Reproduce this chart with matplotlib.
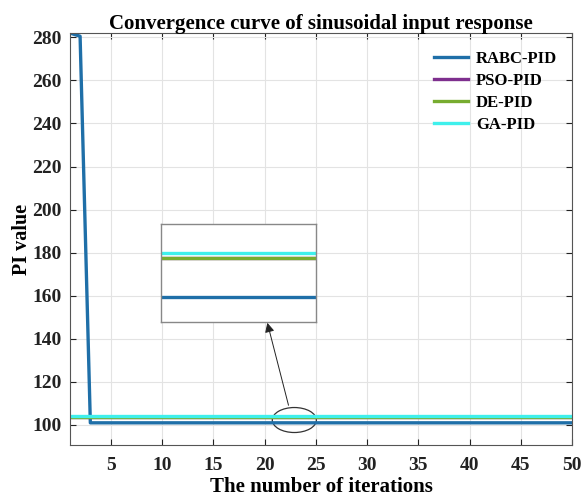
import numpy as np
import matplotlib.pyplot as plt
from matplotlib.patches import Ellipse

plt.rcParams['font.family'] = ['Liberation Serif', 'DejaVu Serif']
plt.rcParams['font.weight'] = 'bold'

# ========== data ==========
iterations = np.arange(1, 51)
rabc_pid = np.array([282.0, 280.5] + [101.0] * 48)
pso_pid = np.full(50, 103.7)
de_pid = np.full(50, 103.7)
ga_pid = np.full(50, 104.0)

series = [
    ('RABC-PID', rabc_pid, '#1f6fa8'),
    ('PSO-PID', pso_pid, '#7e2f8e'),
    ('DE-PID', de_pid, '#77ac30'),
    ('GA-PID', ga_pid, '#3ff0ec'),
]
x_ticks = [5, 10, 15, 20, 25, 30, 35, 40, 45, 50]
y_ticks = [100, 120, 140, 160, 180, 200, 220, 240, 260, 280]

fig = plt.figure(figsize=(5.82, 5.0), dpi=100)
ax = fig.add_axes([0.120, 0.110, 0.863, 0.824])

for name, vals, col in series:
    ax.plot(iterations, vals, color=col, lw=2.4, label=name)

ax.set_xlim(1, 50)
ax.set_ylim(90.7, 282)
ax.set_xticks(x_ticks)
ax.set_yticks(y_ticks)
ax.tick_params(direction='in', top=True, right=True, labelsize=14, colors='#222222',
               length=4, width=0.8)
ax.tick_params(axis='x', pad=9)
ax.tick_params(axis='y', pad=6)
for lab in ax.get_xticklabels() + ax.get_yticklabels():
    lab.set_fontweight('bold')
for sp in ax.spines.values():
    sp.set_color('#555555')
    sp.set_linewidth(0.8)
ax.grid(True, color='#e3e3e3', lw=0.8)
ax.set_axisbelow(True)

ax.set_title('Convergence curve of sinusoidal input response', fontsize=15,
             fontweight='bold', pad=3)
ax.set_xlabel('The number of iterations', fontsize=15, fontweight='bold', labelpad=2)
ax.set_ylabel('PI value', fontsize=14.5, fontweight='bold', labelpad=0)

leg = ax.legend(loc='upper right', bbox_to_anchor=(0.99, 0.98), frameon=False,
                fontsize=12, handlelength=2.0, handletextpad=0.5,
                borderaxespad=0.2, labelspacing=0.36)
for t in leg.get_texts():
    t.set_fontweight('bold')

# ellipse marking the zoomed region
ax.add_patch(Ellipse((22.9, 102.3), 4.3, 11.6, fill=False, ec='#333333', lw=0.9))
ax.annotate('', xy=(20.2, 148.7), xytext=(22.4, 107.9),
            arrowprops=dict(arrowstyle='-|>', color='#222222', lw=0.7,
                            mutation_scale=14))

# zoomed inset
ins = fig.add_axes([0.2766, 0.356, 0.266, 0.196])
for name, vals, col in series:
    ins.plot(iterations, vals, color=col, lw=2.4)
ins.set_xlim(21, 25)
ins.set_ylim(99.3, 106.0)
ins.set_xticks([])
ins.set_yticks([])
for sp in ins.spines.values():
    sp.set_color('#888888')
    sp.set_linewidth(1.0)

fig.savefig('out.png', dpi=100)
